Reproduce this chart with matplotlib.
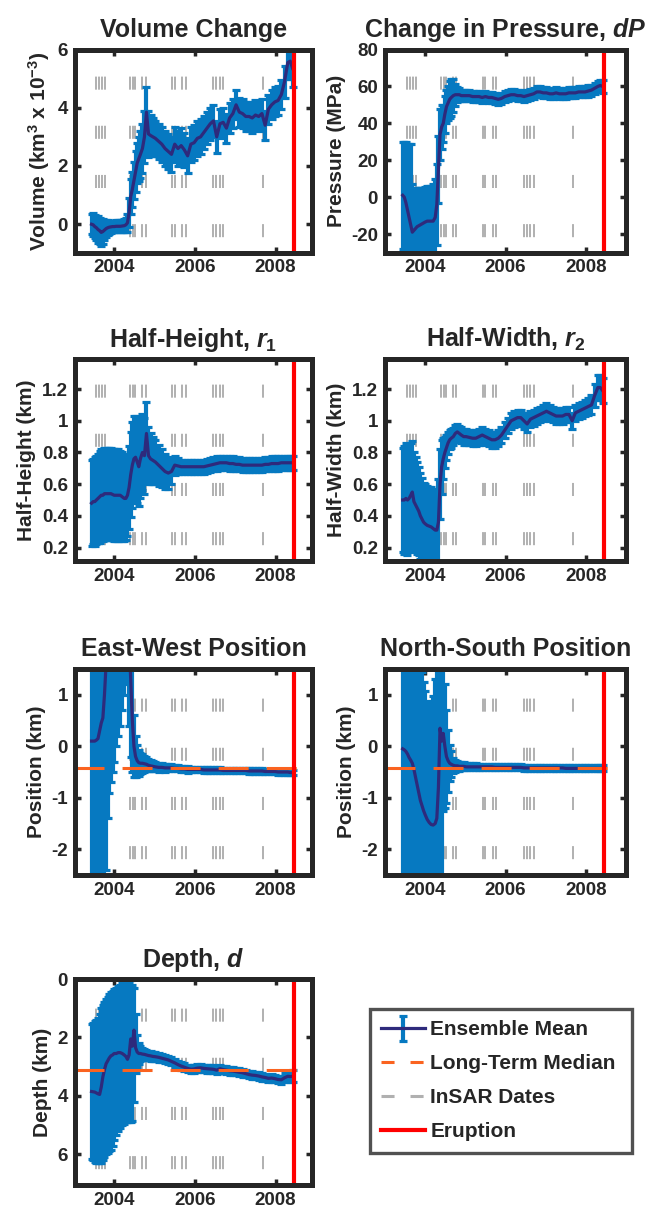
import numpy as np
import matplotlib
matplotlib.use('Agg')
import matplotlib.pyplot as plt
from matplotlib.lines import Line2D
from matplotlib.ticker import FuncFormatter
from matplotlib.legend_handler import HandlerErrorbar

plt.rcParams.update({
    'font.family': ['Liberation Sans', 'DejaVu Sans'],
    'font.weight': 'bold',
    'axes.unicode_minus': False,
    'mathtext.fontset': 'custom',
    'mathtext.rm': 'Liberation Sans:bold',
    'mathtext.it': 'Liberation Sans:italic:bold',
    'mathtext.bf': 'Liberation Sans:bold',
    'mathtext.default': 'rm',
    'lines.scale_dashes': False,
})

# ---------------- data ----------------
dates = [2003.44, 2003.48, 2003.52, 2003.56, 2003.60, 2003.64, 2003.68, 2003.72, 2003.76, 2003.80,
         2003.84, 2003.88, 2003.92, 2003.96, 2004.00, 2004.05, 2004.10, 2004.15, 2004.20, 2004.25,
         2004.29, 2004.33, 2004.37, 2004.41, 2004.45, 2004.49, 2004.53, 2004.57, 2004.61, 2004.65,
         2004.70, 2004.75, 2004.80, 2004.85, 2004.90, 2004.96, 2005.02, 2005.10, 2005.18, 2005.26,
         2005.34, 2005.42, 2005.50, 2005.58, 2005.66, 2005.74, 2005.82, 2005.90, 2005.98, 2006.06,
         2006.14, 2006.22, 2006.30, 2006.38, 2006.46, 2006.54, 2006.62, 2006.70, 2006.78, 2006.86,
         2006.94, 2007.02, 2007.10, 2007.18, 2007.26, 2007.34, 2007.42, 2007.50, 2007.58, 2007.66,
         2007.74, 2007.82, 2007.90, 2007.98, 2008.06, 2008.14, 2008.22, 2008.30, 2008.36, 2008.42]

volume_mean = [0.00, -0.02, -0.08, -0.12, -0.18, -0.22, -0.28, -0.25, -0.20, -0.15,
               -0.12, -0.10, -0.09, -0.08, -0.08, -0.07, -0.07, -0.07, -0.06, -0.05,
               -0.02, 0.05, 0.40, 0.95, 1.20, 1.50, 1.80, 2.10, 2.25, 2.40,
               2.60, 3.00, 3.85, 3.10, 3.05, 3.00, 2.95, 2.85, 2.75, 2.60,
               2.50, 2.40, 2.75, 2.60, 2.70, 2.55, 2.35, 2.75, 2.80, 2.95,
               3.00, 3.15, 3.30, 3.45, 3.55, 3.00, 3.45, 3.50, 3.30, 3.65,
               3.80, 4.10, 3.85, 3.80, 3.70, 3.70, 3.65, 3.75, 3.70, 3.80,
               3.40, 3.95, 4.10, 4.20, 4.25, 4.45, 4.90, 5.55, 5.60, 5.35]
volume_err = [0.35, 0.40, 0.40, 0.42, 0.45, 0.45, 0.45, 0.42, 0.35, 0.30,
              0.25, 0.22, 0.20, 0.20, 0.20, 0.20, 0.20, 0.20, 0.20, 0.22,
              0.25, 0.30, 0.50, 0.60, 0.60, 0.65, 0.70, 0.70, 0.75, 0.80,
              0.85, 0.90, 0.85, 0.80, 0.70, 0.65, 0.60, 0.60, 0.60, 0.60,
              0.60, 0.60, 0.60, 0.60, 0.60, 0.60, 0.60, 0.60, 0.60, 0.60,
              0.60, 0.55, 0.55, 0.55, 0.55, 0.55, 0.50, 0.50, 0.50, 0.50,
              0.50, 0.50, 0.50, 0.50, 0.50, 0.50, 0.50, 0.50, 0.50, 0.50,
              0.50, 0.50, 0.50, 0.50, 0.50, 0.50, 0.55, 0.55, 0.60, 0.65]

pressure_mean = [1, 0, -3, -7, -11, -15, -19, -18, -17, -16,
                 -15.5, -15, -14.5, -14, -13.5, -13, -13, -13, -13, -11,
                 -4, 15, 34, 38, 40, 45, 49, 51, 53, 54,
                 55, 55.5, 55.5, 55.5, 55, 55, 55, 55, 54.5, 54.5,
                 54.5, 54, 54.5, 54, 54, 53.5, 53, 53.5, 54.5, 55,
                 55.5, 55.5, 55, 55, 54.5, 55, 55.5, 56, 57, 57,
                 56.5, 56.5, 56, 56, 56.5, 56, 56, 56, 56.5, 56.5,
                 56.5, 57, 57, 57, 57.5, 58, 59, 60, 60.5, 60]
pressure_err = [29, 30, 33, 36, 40, 44, 26, 23, 22, 21,
                20.5, 20, 19.5, 19, 19, 19, 19, 19, 20, 21,
                22, 18, 14, 12, 10, 10, 9, 9, 10, 10,
                9, 6, 4, 3.5, 3, 3, 3, 3, 3, 3,
                3, 3, 3, 3, 3, 3, 3, 3, 3, 3,
                3, 3, 3, 3, 3, 3, 3, 3, 3, 3,
                3, 3, 3, 3, 3, 3, 3, 3, 3, 3,
                3, 3, 3, 3, 3, 3, 3, 3, 3, 3.5]

height_mean = [0.48, 0.49, 0.49, 0.50, 0.51, 0.52, 0.53, 0.53, 0.54, 0.54,
               0.54, 0.54, 0.54, 0.535, 0.53, 0.53, 0.53, 0.53, 0.52, 0.51,
               0.51, 0.53, 0.58, 0.66, 0.72, 0.76, 0.77, 0.74, 0.71, 0.76,
               0.80, 0.78, 0.92, 0.78, 0.76, 0.75, 0.74, 0.72, 0.70, 0.68,
               0.67, 0.68, 0.72, 0.715, 0.71, 0.71, 0.71, 0.71, 0.71, 0.71,
               0.71, 0.71, 0.715, 0.72, 0.725, 0.73, 0.735, 0.735, 0.735, 0.73,
               0.73, 0.725, 0.725, 0.72, 0.72, 0.72, 0.72, 0.72, 0.72, 0.72,
               0.725, 0.725, 0.73, 0.73, 0.73, 0.735, 0.735, 0.735, 0.735, 0.735]
height_err = [0.27, 0.27, 0.28, 0.28, 0.28, 0.29, 0.29, 0.29, 0.29, 0.29,
              0.29, 0.29, 0.29, 0.29, 0.29, 0.29, 0.29, 0.28, 0.28, 0.27,
              0.26, 0.26, 0.26, 0.27, 0.27, 0.27, 0.26, 0.26, 0.25, 0.25,
              0.24, 0.24, 0.20, 0.18, 0.16, 0.15, 0.14, 0.13, 0.12, 0.11,
              0.10, 0.08, 0.06, 0.05, 0.045, 0.045, 0.045, 0.045, 0.045, 0.045,
              0.045, 0.045, 0.045, 0.045, 0.045, 0.045, 0.045, 0.045, 0.045, 0.045,
              0.045, 0.045, 0.045, 0.045, 0.045, 0.045, 0.045, 0.045, 0.045, 0.045,
              0.045, 0.045, 0.045, 0.045, 0.045, 0.045, 0.045, 0.045, 0.045, 0.045]

width_mean = [0.50, 0.50, 0.51, 0.50, 0.51, 0.53, 0.55, 0.49, 0.47, 0.45,
              0.43, 0.40, 0.38, 0.36, 0.35, 0.34, 0.335, 0.33, 0.32, 0.31,
              0.31, 0.36, 0.60, 0.71, 0.76, 0.80, 0.83, 0.86, 0.88, 0.89,
              0.90, 0.92, 0.93, 0.92, 0.91, 0.90, 0.90, 0.895, 0.89, 0.89,
              0.90, 0.91, 0.90, 0.89, 0.88, 0.88, 0.89, 0.91, 0.94, 0.97,
              1.00, 1.01, 1.02, 1.02, 1.00, 0.98, 1.01, 1.02, 1.03, 1.04,
              1.05, 1.06, 1.05, 1.04, 1.03, 1.03, 1.03, 1.04, 1.04, 1.00,
              1.05, 1.06, 1.07, 1.08, 1.09, 1.10, 1.16, 1.21, 1.21, 1.19]
width_err = [0.33, 0.34, 0.35, 0.35, 0.34, 0.33, 0.32, 0.31, 0.30, 0.29,
             0.28, 0.27, 0.26, 0.25, 0.25, 0.25, 0.25, 0.25, 0.25, 0.25,
             0.25, 0.27, 0.22, 0.17, 0.13, 0.10, 0.08, 0.07, 0.06, 0.06,
             0.055, 0.055, 0.05, 0.05, 0.05, 0.05, 0.05, 0.05, 0.05, 0.05,
             0.05, 0.05, 0.05, 0.05, 0.05, 0.05, 0.05, 0.05, 0.05, 0.05,
             0.05, 0.05, 0.05, 0.05, 0.05, 0.05, 0.05, 0.05, 0.05, 0.05,
             0.05, 0.05, 0.05, 0.05, 0.05, 0.05, 0.05, 0.05, 0.05, 0.05,
             0.05, 0.05, 0.05, 0.05, 0.055, 0.06, 0.07, 0.08, 0.08, 0.08]

ew_mean = [0.10, 0.10, 0.10, 0.12, 0.15, 0.30, 0.45, 0.55, 1.00, 1.60,
           2.20, 2.60, 2.90, 3.10, 3.20, 3.30, 3.30, 3.30, 3.30, 3.20,
           3.00, 2.80, 2.00, 1.30, 0.50, 0.00, -0.20, -0.28, -0.32, -0.33,
           -0.33, -0.34, -0.35, -0.37, -0.38, -0.39, -0.40, -0.41, -0.41, -0.42,
           -0.42, -0.42, -0.43, -0.43, -0.44, -0.44, -0.45, -0.45, -0.45, -0.45,
           -0.45, -0.46, -0.46, -0.46, -0.46, -0.46, -0.46, -0.47, -0.47, -0.47,
           -0.47, -0.47, -0.47, -0.47, -0.47, -0.48, -0.48, -0.48, -0.48, -0.48,
           -0.49, -0.49, -0.49, -0.49, -0.50, -0.50, -0.50, -0.50, -0.51, -0.51]
ew_err = [3.0, 3.2, 3.3, 3.4, 3.5, 3.5, 3.5, 3.3, 3.5, 4.0,
          3.6, 3.5, 3.6, 3.6, 3.5, 3.3, 3.1, 2.9, 2.6, 2.2,
          1.8, 1.5, 1.6, 1.5, 1.0, 0.6, 0.4, 0.3, 0.25, 0.2,
          0.18, 0.16, 0.14, 0.12, 0.11, 0.10, 0.09, 0.09, 0.08, 0.08,
          0.07, 0.07, 0.06, 0.06, 0.06, 0.06, 0.06, 0.05, 0.05, 0.05,
          0.05, 0.05, 0.05, 0.05, 0.05, 0.05, 0.05, 0.05, 0.05, 0.05,
          0.05, 0.05, 0.05, 0.05, 0.05, 0.05, 0.05, 0.05, 0.05, 0.05,
          0.05, 0.05, 0.05, 0.05, 0.05, 0.05, 0.05, 0.05, 0.05, 0.05]

ns_mean = [-0.05, -0.07, -0.10, -0.15, -0.22, -0.27, -0.33, -0.45, -0.60, -0.75,
           -0.90, -1.05, -1.15, -1.25, -1.33, -1.42, -1.48, -1.52, -1.53, -1.50,
           -1.40, -0.80, 0.35, 0.10, 0.25, 0.00, -0.20, -0.28, -0.33, -0.35,
           -0.37, -0.38, -0.38, -0.39, -0.39, -0.39, -0.40, -0.40, -0.40, -0.40,
           -0.40, -0.40, -0.40, -0.40, -0.40, -0.41, -0.41, -0.41, -0.41, -0.41,
           -0.41, -0.41, -0.41, -0.41, -0.42, -0.42, -0.42, -0.42, -0.42, -0.42,
           -0.42, -0.42, -0.42, -0.42, -0.42, -0.42, -0.42, -0.43, -0.43, -0.43,
           -0.43, -0.43, -0.43, -0.43, -0.43, -0.43, -0.43, -0.43, -0.43, -0.43]
ns_err = [4.0, 4.0, 4.0, 4.0, 4.0, 4.0, 4.0, 3.3, 3.0, 2.9,
          2.8, 2.7, 2.6, 2.5, 2.4, 2.3, 2.3, 2.35, 2.5, 2.8,
          3.1, 3.0, 3.0, 2.8, 1.5, 1.2, 0.9, 0.6, 0.35, 0.25,
          0.15, 0.12, 0.10, 0.09, 0.08, 0.08, 0.07, 0.07, 0.07, 0.07,
          0.06, 0.06, 0.06, 0.06, 0.06, 0.06, 0.06, 0.06, 0.06, 0.06,
          0.06, 0.06, 0.06, 0.06, 0.06, 0.06, 0.06, 0.06, 0.06, 0.06,
          0.06, 0.06, 0.06, 0.06, 0.06, 0.06, 0.06, 0.06, 0.06, 0.06,
          0.06, 0.06, 0.06, 0.06, 0.06, 0.06, 0.06, 0.06, 0.06, 0.06]

depth_mean = [3.85, 3.86, 3.87, 3.90, 3.93, 3.95, 3.70, 3.35, 3.10, 2.90,
              2.80, 2.70, 2.63, 2.60, 2.55, 2.55, 2.52, 2.52, 2.55, 2.60,
              2.65, 2.75, 2.60, 2.05, 2.30, 1.75, 2.35, 2.50, 2.55, 2.55,
              2.57, 2.58, 2.60, 2.62, 2.63, 2.65, 2.66, 2.68, 2.71, 2.74,
              2.77, 2.82, 2.87, 2.93, 2.98, 3.02, 3.06, 3.09, 3.08, 3.05,
              3.04, 3.06, 3.07, 3.08, 3.09, 3.12, 3.07, 3.10, 3.12, 3.14,
              3.15, 3.17, 3.19, 3.21, 3.24, 3.27, 3.29, 3.30, 3.32, 3.35,
              3.37, 3.40, 3.39, 3.41, 3.44, 3.45, 3.38, 3.33, 3.34, 3.33]
depth_err_shallow = [2.30, 2.36, 2.42, 2.50, 2.58, 2.75, 2.70, 2.45, 2.30, 2.20,
                     2.20, 2.20, 2.18, 2.20, 2.20, 2.25, 2.27, 2.32, 2.40, 2.50,
                     2.55, 2.70, 2.50, 2.00, 2.10, 1.45, 1.15, 0.60, 0.35, 0.25,
                     0.22, 0.20, 0.18, 0.17, 0.16, 0.15, 0.15, 0.15, 0.14, 0.14,
                     0.14, 0.14, 0.14, 0.14, 0.14, 0.13, 0.13, 0.13, 0.13, 0.13,
                     0.13, 0.13, 0.13, 0.13, 0.13, 0.13, 0.13, 0.13, 0.13, 0.13,
                     0.13, 0.13, 0.13, 0.13, 0.13, 0.13, 0.13, 0.13, 0.13, 0.13,
                     0.13, 0.13, 0.13, 0.13, 0.13, 0.14, 0.15, 0.16, 0.18, 0.20]
depth_err_deep = [2.30, 2.34, 2.38, 2.40, 2.37, 2.35, 2.60, 2.85, 3.00, 3.10,
                  3.15, 3.20, 3.22, 3.10, 2.95, 2.80, 2.68, 2.58, 2.45, 2.35,
                  2.25, 2.15, 2.30, 2.85, 2.55, 2.45, 0.85, 0.50, 0.35, 0.25,
                  0.21, 0.20, 0.18, 0.16, 0.16, 0.15, 0.15, 0.15, 0.14, 0.14,
                  0.14, 0.14, 0.14, 0.14, 0.14, 0.13, 0.13, 0.13, 0.13, 0.13,
                  0.13, 0.13, 0.13, 0.13, 0.13, 0.13, 0.13, 0.13, 0.13, 0.13,
                  0.13, 0.13, 0.13, 0.13, 0.13, 0.13, 0.13, 0.13, 0.13, 0.13,
                  0.13, 0.13, 0.13, 0.13, 0.13, 0.14, 0.15, 0.16, 0.18, 0.20]

ew_median = -0.43
ns_median = -0.42
depth_median = 3.12
median_span = [2003.0, 2008.66]

insar_dates = [2003.56, 2003.63, 2003.70, 2003.78,
               2004.40, 2004.46, 2004.52, 2004.70, 2004.78,
               2005.43, 2005.50, 2005.69, 2005.77,
               2006.45, 2006.53, 2006.61, 2006.70,
               2007.68]
eruption_date = 2008.45

# ---------------- style ----------------
BLUE = '#0679C1'
NAVY = '#2E2A7C'
ORANGE = '#FA6320'
GRAY = '#B0B0B0'
RED = '#FF0000'
DARK = '#262626'

fig = plt.figure(figsize=(6.48, 12.09), dpi=100)
W, H = 648.0, 1209.0

def axbox(x0, x1, y0, y1):
    return [x0 / W, 1 - y1 / H, (x1 - x0) / W, (y1 - y0) / H]

cols = [(75, 312), (385, 626)]
rows = [(49.5, 252.5), (359, 561), (669, 875), (979, 1185)]
col_xlim = [(2003.03, 2008.9), (2003.0, 2009.0)]

panels = [
    dict(title='Volume Change', ylabel=r'Volume (km$^3$ x 10$^{-3}$)', mean=volume_mean,
         err=volume_err, ylim=(-0.97, 6), yticks=[0, 2, 4, 6], median=None, r=0, c=0),
    dict(title=r'Change in Pressure, $\mathit{dP}$', ylabel='Pressure (MPa)', mean=pressure_mean,
         err=pressure_err, ylim=(-30, 80), yticks=[-20, 0, 20, 40, 60, 80], median=None, r=0, c=1),
    dict(title=r'Half-Height, $\mathit{r_1}$', ylabel='Half-Height (km)', mean=height_mean,
         err=height_err, ylim=(0.115, 1.39), yticks=[0.2, 0.4, 0.6, 0.8, 1.0, 1.2], median=None, r=1, c=0),
    dict(title=r'Half-Width, $\mathit{r_2}$', ylabel='Half-Width (km)', mean=width_mean,
         err=width_err, ylim=(0.115, 1.39), yticks=[0.2, 0.4, 0.6, 0.8, 1.0, 1.2], median=None, r=1, c=1),
    dict(title='East-West Position', ylabel='Position (km)', mean=ew_mean,
         err=ew_err, ylim=(-2.5, 1.5), yticks=[-2, -1, 0, 1], median=ew_median, r=2, c=0),
    dict(title='North-South Position', ylabel='Position (km)', mean=ns_mean,
         err=ns_err, ylim=(-2.5, 1.5), yticks=[-2, -1, 0, 1], median=ns_median, r=2, c=1),
    dict(title=r'Depth, $\mathit{d}$', ylabel='Depth (km)', mean=depth_mean,
         err=[depth_err_shallow, depth_err_deep], ylim=(7.05, 0), yticks=[0, 2, 4, 6],
         median=depth_median, r=3, c=0),
]

fmt = FuncFormatter(lambda v, p: f'{v:g}')
eb_handle = None
for p in panels:
    (x0, x1) = cols[p['c']]
    (y0, y1) = rows[p['r']]
    ax = fig.add_axes(axbox(x0, x1, y0, y1))
    for d in insar_dates:
        ax.axvline(d, color=GRAY, lw=1.4, ls=(24, (9.4, 26)), zorder=1)
    eb = ax.errorbar(dates, p['mean'], yerr=p['err'], color=NAVY, lw=2.3,
                     ecolor=BLUE, elinewidth=3.0, capsize=2.7, capthick=2.3, zorder=3)
    if eb_handle is None:
        eb_handle = eb
    if p['median'] is not None:
        ax.plot(median_span, [p['median'], p['median']], color=ORANGE, lw=2.2,
                ls=(0, (21.6, 13.0)), zorder=4, solid_capstyle='butt', dash_capstyle='butt')
    ax.axvline(eruption_date, color=RED, lw=3.0, zorder=5)
    ax.set_xlim(*col_xlim[p['c']])
    ax.set_ylim(*p['ylim'])
    ax.set_xticks([2004, 2006, 2008])
    ax.set_yticks(p['yticks'])
    ax.yaxis.set_major_formatter(fmt)
    ax.xaxis.set_major_formatter(FuncFormatter(lambda v, pp: f'{v:.0f}'))
    ax.tick_params(direction='in', length=4, width=2.5, top=True, right=True,
                   labelsize=13.5, colors=DARK, pad=5)
    for lab in ax.get_xticklabels() + ax.get_yticklabels():
        lab.set_fontweight('bold')
    for s in ax.spines.values():
        s.set_linewidth(3.6)
        s.set_color(DARK)
        s.set_zorder(10)
    ax.set_title(p['title'], fontsize=18, fontweight='bold', color=DARK, pad=9)
    ax.set_ylabel(p['ylabel'], fontsize=15, fontweight='bold', color=DARK, labelpad=4)

# ---------------- legend ----------------
h_med = Line2D([], [], color=ORANGE, lw=2.2, ls=(0, (9.4, 11.5)))
h_ins = Line2D([], [], color=GRAY, lw=2.2, ls=(0, (9.4, 11.5)))
h_eru = Line2D([], [], color=RED, lw=3.0)
lx0, lx1, ly0, ly1 = 370, 632, 1009, 1147
leg = fig.legend([eb_handle, h_med, h_ins, h_eru],
                 ['Ensemble Mean', 'Long-Term Median', 'InSAR Dates', 'Eruption'],
                 loc='upper left', mode='expand',
                 bbox_to_anchor=(lx0 / W, 1 - ly1 / H, (lx1 - lx0) / W, (ly1 - ly0) / H),
                 prop={'size': 15, 'weight': 'bold'}, frameon=True, fancybox=False,
                 handlelength=2.1, handletextpad=0.25, labelspacing=0.72,
                 borderpad=0.55, borderaxespad=0, numpoints=1,
                 handler_map={type(eb_handle): HandlerErrorbar(yerr_size=0.6)})
leg.get_frame().set_linewidth(2.4)
leg.get_frame().set_edgecolor(DARK)
for t in leg.get_texts():
    t.set_color(DARK)

fig.savefig('out.png', dpi=100, facecolor='white')
